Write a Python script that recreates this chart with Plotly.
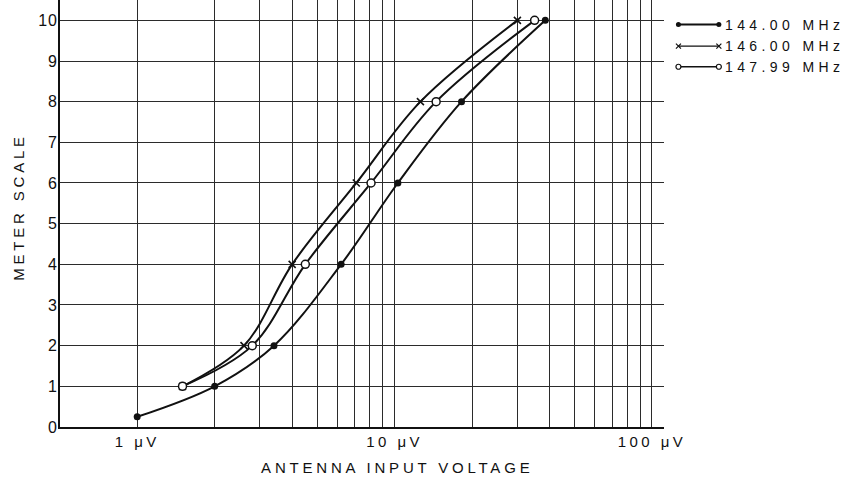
import numpy as np
import plotly.graph_objects as go

# Antenna input voltage (µV) required for each S-meter reading
meter_144 = [0.25, 1, 2, 4, 6, 8, 10]
volts_144 = [1.0, 2.0, 3.4, 6.2, 10.3, 18.2, 38.5]

meter_146 = [1, 2, 4, 6, 8, 10]
volts_146 = [1.5, 2.6, 4.0, 7.1, 12.6, 30.0]

meter_148 = [1, 2, 4, 6, 8, 10]
volts_148 = [1.5, 2.8, 4.5, 8.1, 14.5, 35.0]

series_names = ["144.00 MHz", "146.00 MHz", "147.99 MHz"]

x_major = [1, 10, 100]
x_major_text = ["1 μV", "10 μV", "100 μV"]
y_ticks = list(range(0, 11))

# nominal page size and plot-area edges in pixels (converted to fractions below)
W, H = 863, 488
PL, PR, PT, PB = 61, 673, 0, 435

FONT = "Liberation Sans, Arial, sans-serif"
INK = "#111111"
GRID = "#2b2b2b"

# log grid: every unit step within each decade from 1 to 100 µV
x_grid = [m * 10 ** d for d in (0, 1) for m in range(1, 10)] + [100]
x_grid_text = [x_major_text[x_major.index(v)] if v in x_major else "" for v in x_grid]

fig = go.Figure()

curve_styles = [
    dict(symbol="circle", size=7, color=INK, line=dict(width=0)),
    dict(symbol="x-thin", size=7, color=INK, line=dict(width=1.6, color=INK)),
    dict(symbol="circle", size=8, color="white", line=dict(width=1.5, color=INK)),
]
curves = [(volts_144, meter_144), (volts_146, meter_146), (volts_148, meter_148)]

for (xs, ys), name, mk in zip(curves, series_names, curve_styles):
    fig.add_trace(go.Scatter(
        x=xs, y=ys, name=name, mode="lines+markers",
        line=dict(color=INK, width=2, shape="spline", smoothing=1.0),
        marker=mk, showlegend=False, hoverinfo="skip",
    ))

# key in the upper right: a short sample segment with end markers per series
KEY_X0, KEY_X1, KEY_TEXT_X = 688, 729, 733
KEY_ROWS = [25, 47, 68]
key_styles = [
    dict(symbol="circle", size=5, color=INK, line=dict(width=0)),
    dict(symbol="x-thin", size=5, color=INK, line=dict(width=1.2, color=INK)),
    dict(symbol="circle", size=5, color="white", line=dict(width=1.2, color=INK)),
]
key_widths = [2, 1.4, 1.4]
for row, mk, lw in zip(KEY_ROWS, key_styles, key_widths):
    fig.add_trace(go.Scatter(
        x=[KEY_X0, KEY_X1], y=[row, row], xaxis="x2", yaxis="y2",
        mode="lines+markers", line=dict(color=INK, width=lw),
        marker=mk, showlegend=False, hoverinfo="skip",
    ))

annotations = [
    dict(text="ANTENNA INPUT VOLTAGE", x=403 / W, y=1 - 476 / H, xref="paper", yref="paper",
         xanchor="center", yanchor="middle", showarrow=False, font=dict(size=15, color=INK, family=FONT)),
    dict(text="METER SCALE", x=18 / W, y=1 - 211 / H, xref="paper", yref="paper", textangle=-90,
         xanchor="center", yanchor="middle", showarrow=False, font=dict(size=15, color=INK, family=FONT)),
]
for row, name in zip(KEY_ROWS, series_names):
    annotations.append(dict(
        text=name, x=KEY_TEXT_X, y=row, xref="x2", yref="y2", xanchor="left", yanchor="middle",
        showarrow=False, font=dict(size=14, color=INK, family=FONT),
    ))

fig.update_layout(
    autosize=True,
    margin=dict(l=0, r=0, t=0, b=0),
    paper_bgcolor="white", plot_bgcolor="rgba(0,0,0,0)",
    font=dict(family=FONT, color=INK, size=15),
    showlegend=False,
    annotations=annotations,
    xaxis=dict(
        type="log", domain=[PL / W, PR / W],
        range=[np.log10(0.502), np.log10(111)],
        tickvals=x_grid, ticktext=x_grid_text, ticks="",
        showgrid=True, gridcolor=GRID, gridwidth=1,
        showline=True, linecolor=INK, linewidth=2, zeroline=False,
        tickfont=dict(size=15, color=INK, family=FONT), fixedrange=True,
    ),
    yaxis=dict(
        domain=[1 - PB / H, 1 - PT / H], range=[0, 10.5],
        tickvals=y_ticks, ticks="", ticklabelstandoff=-3,
        showgrid=True, gridcolor=GRID, gridwidth=1,
        showline=True, linecolor=INK, linewidth=2, zeroline=False,
        tickfont=dict(size=16, color=INK, family=FONT), fixedrange=True,
    ),
    xaxis2=dict(domain=[0, 1], range=[0, W], visible=False, anchor="y2", fixedrange=True),
    yaxis2=dict(domain=[0, 1], range=[H, 0], visible=False, anchor="x2", fixedrange=True),
)

# page without body margin or scrollbars, and spaced-out drafting-style lettering
page_js = """
document.documentElement.style.margin = '0';
document.documentElement.style.overflow = 'hidden';
document.body.style.margin = '0';
document.body.style.overflow = 'hidden';
var gd = document.getElementById('{plot_id}');
function spaceKeepLeft(t, px) {
  var left = t.getBBox().x;
  t.style.letterSpacing = px;
  t.setAttribute('text-anchor', 'start');
  t.setAttribute('x', left);
}
function spaceText() {
  gd.querySelectorAll('.xtick text').forEach(function(t){ t.style.letterSpacing = '3.4px'; });
  gd.querySelectorAll('.ytick text').forEach(function(t){ t.style.letterSpacing = '1px'; });
  gd.querySelectorAll('.annotation-text').forEach(function(t){
    if (t.textContent.indexOf('MHz') >= 0) { spaceKeepLeft(t, '4.4px'); }
    else { t.style.letterSpacing = '3.8px'; }
  });
}
spaceText();
"""

fig.write_html("out.html", post_script=page_js, config={"displayModeBar": False, "responsive": True},
               default_width="100vw", default_height="100vh")
